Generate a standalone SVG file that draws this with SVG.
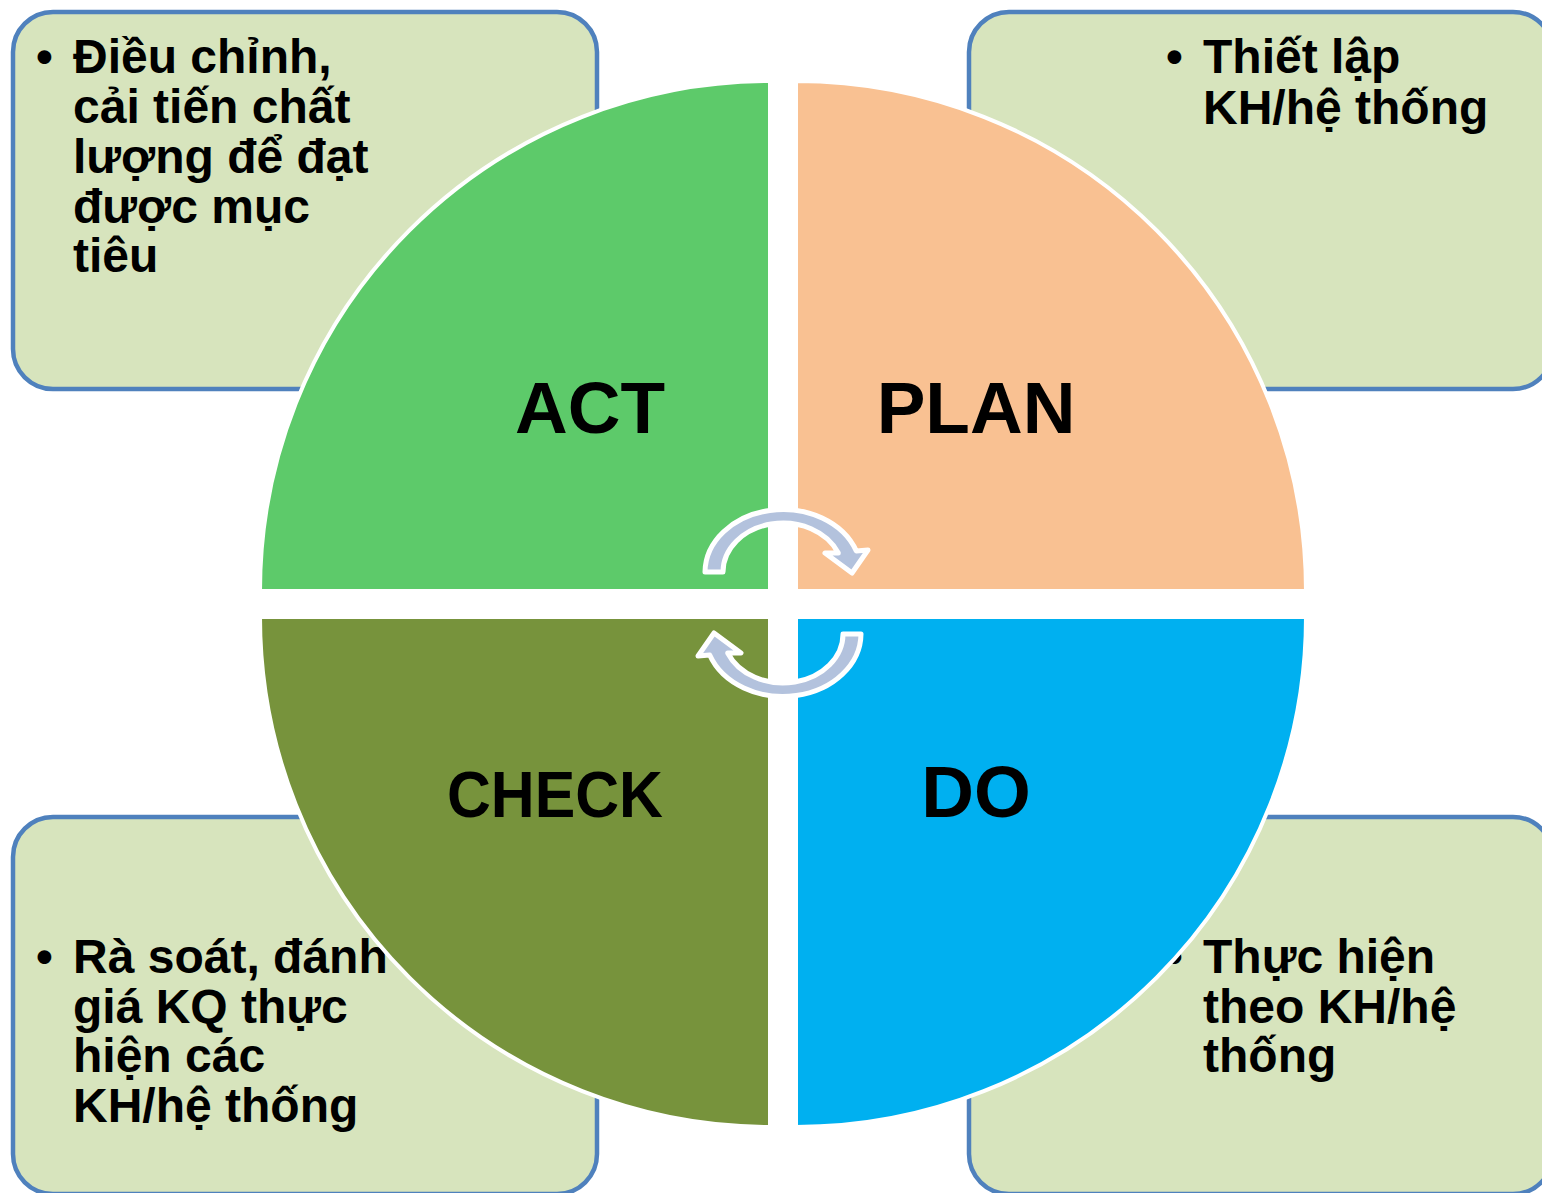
<svg xmlns="http://www.w3.org/2000/svg" width="1542" height="1193" viewBox="0 0 1542 1193">
  <style>
    .box { fill: #D7E4BD; stroke: #4F81BD; stroke-width: 4.5; }
    .note { font-family: "Liberation Sans", Arial, sans-serif; font-weight: bold; font-size: 48px; fill: #000; }
    .quad { stroke: #FFFFFF; stroke-width: 4; }
    .label { font-family: "Liberation Sans", Arial, sans-serif; font-weight: bold; font-size: 73px; fill: #000; text-anchor: middle; }
    .arrow { fill: #B3C2DD; stroke: #FFFFFF; stroke-width: 5; stroke-linejoin: round; }
  </style>
  <rect width="1542" height="1193" fill="#FFFFFF"/>

  <g id="note-act">
    <rect class="box" x="13" y="12" width="584" height="377" rx="40" ry="40"/>
    <text class="note" x="36" y="73">•</text>
    <text class="note" x="73" y="73">Điều chỉnh,</text>
    <text class="note" x="73" y="123">cải tiến chất</text>
    <text class="note" x="73" y="173">lượng để đạt</text>
    <text class="note" x="73" y="223">được mục</text>
    <text class="note" x="73" y="272">tiêu</text>
  </g>
  <g id="note-plan">
    <rect class="box" x="969" y="12" width="584" height="377" rx="40" ry="40"/>
    <text class="note" x="1166" y="73">•</text>
    <text class="note" x="1203" y="73">Thiết lập</text>
    <text class="note" x="1203" y="124">KH/hệ thống</text>
  </g>
  <g id="note-check">
    <rect class="box" x="13" y="817" width="584" height="377" rx="40" ry="40"/>
    <text class="note" x="36" y="973">•</text>
    <text class="note" x="73" y="973">Rà soát, đánh</text>
    <text class="note" x="73" y="1023">giá KQ thực</text>
    <text class="note" x="73" y="1072">hiện các</text>
    <text class="note" x="73" y="1122">KH/hệ thống</text>
  </g>
  <g id="note-do">
    <rect class="box" x="969" y="817" width="584" height="377" rx="40" ry="40"/>
    <text class="note" x="1166" y="973">•</text>
    <text class="note" x="1203" y="973">Thực hiện</text>
    <text class="note" x="1203" y="1023">theo KH/hệ</text>
    <text class="note" x="1203" y="1072">thống</text>
  </g>

  <g id="act">
    <path class="quad" fill="#5DCA6A" d="M770,591 L260,591 A510,510 0 0 1 770,81 Z"/>
    <text class="label" x="590" y="433">ACT</text>
  </g>
  <g id="plan">
    <path class="quad" fill="#F9C192" d="M796,591 L796,81 A510,510 0 0 1 1306,591 Z"/>
    <text class="label" x="976" y="433">PLAN</text>
  </g>
  <g id="do">
    <path class="quad" fill="#00B0F0" d="M796,617 L1306,617 A510,510 0 0 1 796,1127 Z"/>
    <text class="label" x="976" y="817">DO</text>
  </g>
  <g id="check">
    <path class="quad" fill="#77933C" d="M770,617 L770,1127 A510,510 0 0 1 260,617 Z"/>
    <text class="label" x="555" y="817" style="font-size:65px" textLength="216" lengthAdjust="spacingAndGlyphs">CHECK</text>
  </g>

  <g id="connectors">
    <path id="arrow-act-plan" class="arrow" d="M705,572 A78,63 0 0 1 856.3,551 L868,550 L852,573 L825,553 L838.3,553 A60,49 0 0 0 723,572 Z"/>
    <path id="arrow-do-check" class="arrow" transform="rotate(180 783 603)" d="M705,572 A78,63 0 0 1 856.3,551 L868,550 L852,573 L825,553 L838.3,553 A60,49 0 0 0 723,572 Z"/>
  </g>
</svg>
